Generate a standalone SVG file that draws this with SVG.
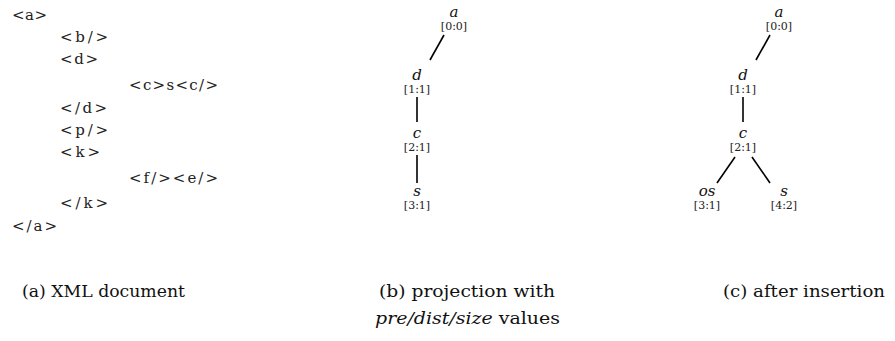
<svg xmlns="http://www.w3.org/2000/svg" width="895" height="341" viewBox="0 0 895 341">
<style>
text{font-family:'DejaVu Serif','Liberation Serif',serif}
.x{font-size:15px;fill:#222}
.n{font-size:15px;font-style:italic;fill:#111;text-anchor:middle}
.v{font-size:11px;fill:#222;text-anchor:middle}
.cap{font-size:17px;fill:#111}
.e{stroke:#000;stroke-width:1.6;fill:none}
</style>
<rect width="895" height="341" fill="#fff"/>
<g id="xml-doc">
<text class="x" x="12" y="20" textLength="35" lengthAdjust="spacing">&lt;a&gt;</text>
<text class="x" x="60" y="42" textLength="48" lengthAdjust="spacing">&lt;b/&gt;</text>
<text class="x" x="60" y="64" textLength="38" lengthAdjust="spacing">&lt;d&gt;</text>
<text class="x" x="129" y="90" textLength="89" lengthAdjust="spacing">&lt;c&gt;s&lt;c/&gt;</text>
<text class="x" x="60" y="113" textLength="47" lengthAdjust="spacing">&lt;/d&gt;</text>
<text class="x" x="60" y="135" textLength="48" lengthAdjust="spacing">&lt;p/&gt;</text>
<text class="x" x="60" y="157" textLength="40" lengthAdjust="spacing">&lt;k&gt;</text>
<text class="x" x="129" y="183" textLength="89" lengthAdjust="spacing">&lt;f/&gt;&lt;e/&gt;</text>
<text class="x" x="60" y="208" textLength="48" lengthAdjust="spacing">&lt;/k&gt;</text>
<text class="x" x="12" y="231" textLength="45" lengthAdjust="spacing">&lt;/a&gt;</text>
</g>
<g id="b-a"><text class="n" x="454" y="17">a</text><text class="v" x="454" y="30">[0:0]</text></g>
<g id="b-d"><text class="n" x="417" y="80">d</text><text class="v" x="417" y="93">[1:1]</text></g>
<g id="b-c"><text class="n" x="417" y="138">c</text><text class="v" x="417" y="151">[2:1]</text></g>
<g id="b-s"><text class="n" x="417" y="196">s</text><text class="v" x="417" y="209">[3:1]</text></g>
<g id="c-a"><text class="n" x="779" y="17">a</text><text class="v" x="779" y="30">[0:0]</text></g>
<g id="c-d"><text class="n" x="743" y="80">d</text><text class="v" x="743" y="93">[1:1]</text></g>
<g id="c-c"><text class="n" x="743" y="138">c</text><text class="v" x="743" y="151">[2:1]</text></g>
<g id="c-os"><text class="n" x="707" y="196">os</text><text class="v" x="707" y="209">[3:1]</text></g>
<g id="c-s"><text class="n" x="784" y="196">s</text><text class="v" x="784" y="209">[4:2]</text></g>
<g id="connectors">
<line class="e" x1="444" y1="35" x2="430" y2="60"/>
<line class="e" x1="417" y1="97" x2="417" y2="122"/>
<line class="e" x1="417" y1="155" x2="417" y2="183"/>
<line class="e" x1="770" y1="35" x2="756" y2="60"/>
<line class="e" x1="743" y1="97" x2="743" y2="122"/>
<line class="e" x1="735" y1="157" x2="717" y2="183"/>
<line class="e" x1="752" y1="157" x2="770" y2="183"/>
</g>
<g id="captions">
<text class="cap" x="22" y="297" textLength="163" lengthAdjust="spacingAndGlyphs">(a) XML document</text>
<text class="cap" x="379" y="297" textLength="176" lengthAdjust="spacingAndGlyphs">(b) projection with</text>
<text class="cap" x="375" y="324" textLength="185" lengthAdjust="spacingAndGlyphs"><tspan font-style="italic">pre/dist/size</tspan> values</text>
<text class="cap" x="723" y="297" textLength="162" lengthAdjust="spacingAndGlyphs">(c) after insertion</text>
</g>
</svg>
